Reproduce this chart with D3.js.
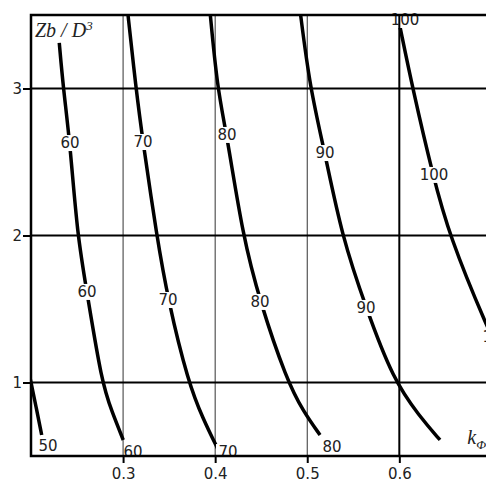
<!DOCTYPE html>
<html>
<head>
<meta charset="utf-8">
<script src="https://cdn.jsdelivr.net/npm/d3@7"></script>
<style>
  html, body { margin: 0; padding: 0; background: #fff; }
  svg { display: block; }
</style>
</head>
<body>
<script>
let width = 486;
let height = 482;

// axis ticks
let xTicks = [0.3, 0.4, 0.5, 0.6];
let yTicks = [1, 2, 3];
let xGridThin = [0.3, 0.4, 0.5];
let xGridThick = [0.6];

// contour lines (k, Zb/D^3)
let curve50 = [[0.196, 1.12], [0.2, 1.0], [0.206, 0.82], [0.2116, 0.643]];
let curve60 = [[0.2307, 3.31], [0.2351, 3.0], [0.2424, 2.63], [0.2503, 2.0], [0.2608, 1.616], [0.2768, 1.0], [0.2880, 0.80], [0.3002, 0.609]];
let curve70 = [[0.3045, 3.55], [0.314, 3.0], [0.3216, 2.636], [0.3365, 2.0], [0.3488, 1.561], [0.3708, 1.0], [0.3870, 0.75], [0.4034, 0.541]];
let curve80 = [[0.394, 3.55], [0.4023, 3.0], [0.4129, 2.68], [0.4299, 2.0], [0.4487, 1.548], [0.4777, 1.017], [0.4960, 0.80], [0.5139, 0.643]];
let curve90 = [[0.4918, 3.55], [0.503, 3.0], [0.5193, 2.56], [0.5374, 2.0], [0.5638, 1.507], [0.5935, 1.017], [0.6220, 0.77], [0.6442, 0.609]];
let curve100 = [[0.6008, 3.418], [0.6145, 3.0], [0.6366, 2.405], [0.6543, 2.0], [0.6941, 1.391], [0.72, 1.05]];
let curves = [curve50, curve60, curve70, curve80, curve90, curve100];

// contour labels: [text, k, Zb/D^3]
let contourLabels = [
  ["50", 0.2185, 0.568],
  ["60", 0.2424, 2.629],
  ["60", 0.2608, 1.616],
  ["60", 0.3108, 0.527],
  ["70", 0.3216, 2.636],
  ["70", 0.3488, 1.561],
  ["70", 0.4139, 0.527],
  ["80", 0.4129, 2.684],
  ["80", 0.4487, 1.548],
  ["80", 0.5269, 0.561],
  ["90", 0.5193, 2.561],
  ["90", 0.5638, 1.507],
  ["100", 0.6062, 3.466],
  ["100", 0.6377, 2.412],
  ["100", 0.706, 1.31]
];

let margin = { left: 31, top: 15, bottom: 26 };
let x = d3.scaleLinear().domain([0.2, 0.7]).range([margin.left, margin.left + 460.4]);
let y = d3.scaleLinear().domain([0.5, 3.5]).range([height - margin.bottom, margin.top]);

let svg = d3.select("body").append("svg")
  .attr("width", width)
  .attr("height", height);

let labelFont = "'DejaVu Sans', sans-serif";
let labelSize = 15;

// mask so contour lines break under their labels
let defs = svg.append("defs");
let mask = defs.append("mask").attr("id", "labelGaps")
  .attr("maskUnits", "userSpaceOnUse")
  .attr("x", 0).attr("y", 0).attr("width", width).attr("height", height);
mask.append("rect").attr("width", width).attr("height", height).attr("fill", "#fff");
mask.selectAll("rect.gap")
  .data(contourLabels)
  .enter()
  .append("rect")
  .attr("class", "gap")
  .attr("x", d => x(d[1]) - d[0].length * 5 - 2)
  .attr("y", d => y(d[2]) - 8)
  .attr("width", d => d[0].length * 10 + 4)
  .attr("height", 16)
  .attr("fill", "#000");

defs.append("clipPath").attr("id", "plotClip")
  .append("rect")
  .attr("x", x(0.2)).attr("y", y(3.5))
  .attr("width", x(0.7) - x(0.2)).attr("height", y(0.5) - y(3.5));

// grid
svg.append("g").selectAll("line")
  .data(xGridThin)
  .enter()
  .append("line")
  .attr("x1", d => x(d)).attr("x2", d => x(d))
  .attr("y1", y(3.5)).attr("y2", y(0.5))
  .attr("stroke", "#333")
  .attr("stroke-width", 1);

svg.append("g").selectAll("line")
  .data(xGridThick)
  .enter()
  .append("line")
  .attr("x1", d => x(d)).attr("x2", d => x(d))
  .attr("y1", y(3.5)).attr("y2", y(0.5))
  .attr("stroke", "#000")
  .attr("stroke-width", 2);

svg.append("g").selectAll("line")
  .data(yTicks)
  .enter()
  .append("line")
  .attr("x1", x(0.2)).attr("x2", width)
  .attr("y1", d => y(d)).attr("y2", d => y(d))
  .attr("stroke", "#000")
  .attr("stroke-width", 2);

// contour lines
let line = d3.line()
  .x(d => x(d[0]))
  .y(d => y(d[1]))
  .curve(d3.curveBasis);

svg.append("g")
  .attr("clip-path", "url(#plotClip)")
  .append("g")
  .attr("mask", "url(#labelGaps)")
  .selectAll("path")
  .data(curves)
  .enter()
  .append("path")
  .attr("d", line)
  .attr("fill", "none")
  .attr("stroke", "#000")
  .attr("stroke-width", 3.5)
  .attr("stroke-linecap", "butt");

// contour labels
svg.append("g").selectAll("text")
  .data(contourLabels)
  .enter()
  .append("text")
  .attr("x", d => x(d[1]))
  .attr("y", d => y(d[2]))
  .attr("dy", "0.36em")
  .attr("text-anchor", "middle")
  .attr("font-family", labelFont)
  .attr("font-size", labelSize)
  .attr("fill", "#222")
  .text(d => d[0]);

// axes
let xAxis = d3.axisBottom(x)
  .tickValues(xTicks)
  .tickSize(7)
  .tickPadding(5)
  .tickFormat(d3.format(".1f"));
let gx = svg.append("g")
  .attr("transform", "translate(0," + y(0.5) + ")")
  .call(xAxis);
gx.select(".domain").remove();
gx.selectAll(".tick line").attr("stroke", "#000").attr("stroke-width", 2);
gx.selectAll(".tick text")
  .attr("font-family", labelFont)
  .attr("font-size", labelSize)
  .attr("fill", "#222");

let yAxis = d3.axisLeft(y)
  .tickValues(yTicks)
  .tickSize(8)
  .tickPadding(1)
  .tickFormat(d3.format("d"));
let gy = svg.append("g")
  .attr("transform", "translate(" + x(0.2) + ",0)")
  .call(yAxis);
gy.select(".domain").remove();
gy.selectAll(".tick line").attr("stroke", "#000").attr("stroke-width", 2);
gy.selectAll(".tick text")
  .attr("font-family", labelFont)
  .attr("font-size", labelSize)
  .attr("fill", "#222");

// plot frame (right edge falls outside the window)
svg.append("path")
  .attr("d", "M" + width + "," + y(3.5) + "H" + x(0.2) + "V" + y(0.5) + "H" + width)
  .attr("fill", "none")
  .attr("stroke", "#000")
  .attr("stroke-width", 2.5);

// axis titles
let yTitle = svg.append("text")
  .attr("x", x(0.2) + 4)
  .attr("y", y(3.5) + 22)
  .attr("font-family", "'Liberation Serif', serif")
  .attr("font-style", "italic")
  .attr("font-size", 20)
  .attr("fill", "#222");
yTitle.append("tspan").text("Zb / D");
yTitle.append("tspan").attr("dy", -7).attr("font-size", 13).text("3");

let xTitle = svg.append("text")
  .attr("x", x(0.6) + 68)
  .attr("y", y(0.5) - 12)
  .attr("font-family", "'Liberation Serif', serif")
  .attr("font-style", "italic")
  .attr("font-size", 20)
  .attr("fill", "#222");
xTitle.append("tspan").text("k");
xTitle.append("tspan").attr("dy", 5).attr("font-size", 13).text("Φ");
</script>
</body>
</html>
